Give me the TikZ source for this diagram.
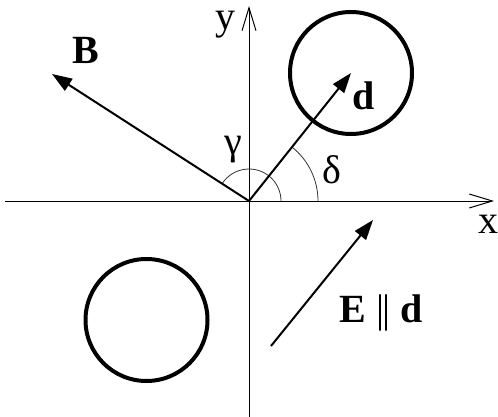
\documentclass[tikz,border=0pt]{standalone}
\usepackage{fontspec}
\setmainfont{Liberation Serif}
\usetikzlibrary{arrows.meta}
\begin{document}
\begin{tikzpicture}[x=0.5pt,y=-0.5pt,
  axis/.style={line width=0.5pt,-{Straight Barb[length=11.5pt,width=7pt,line width=0.5pt]}},
  vec/.style={line width=1pt,-{Triangle[length=10pt,width=7pt]}},
  ring/.style={circle,draw,line width=2pt,minimum size=61pt,inner sep=0pt},
  anglearc/.style={line width=0.4pt,draw=black!80},
  lbl/.style={font=\fontsize{20}{24}\selectfont,inner sep=0pt}]
\useasboundingbox (0,0) rectangle (498,417);
% points
\coordinate (O) at (249,201);
\coordinate (xl) at (5,201);
\coordinate (xr) at (494,201);
\coordinate (yb) at (249,417);
\coordinate (yt) at (249,6);
\coordinate (Bt) at (52,74);
\coordinate (Es) at (271,346);
\coordinate (Et) at (373,220);
% circles
\node[ring] (c1) at (351,73) {};
\node[ring] (c2) at (146.5,320) {};
% axes
\draw[axis] (xl) -- (xr);
\draw[axis] (yb) -- (yt);
% angle arcs
\draw[anglearc] (O) ++(16pt,0) arc[start angle=0,end angle=147.2,radius=16pt];
\draw[anglearc] (O) ++(34.5pt,0) arc[start angle=0,end angle=51.2,radius=34.5pt];
% vectors
\draw[vec] (O) -- (Bt);
\draw[vec] (O) -- (c1.center);
\draw[vec] (Es) -- (Et);
% labels
\node[lbl] (lB) at (86,50) {\textbf{B}};
\node[lbl] (ly) at (225,25) {y};
\node[lbl] (lx) at (488,224) {x};
\node[lbl] (ld) at (364,96) {\textbf{d}};
\node[lbl] (lg) at (233,150) {γ};
\node[lbl] (ldel) at (332,170) {δ};
\node[lbl] (lE) at (381,313) {\textbf{E} |\kern-1pt| \textbf{d}};
\end{tikzpicture}
\end{document}
